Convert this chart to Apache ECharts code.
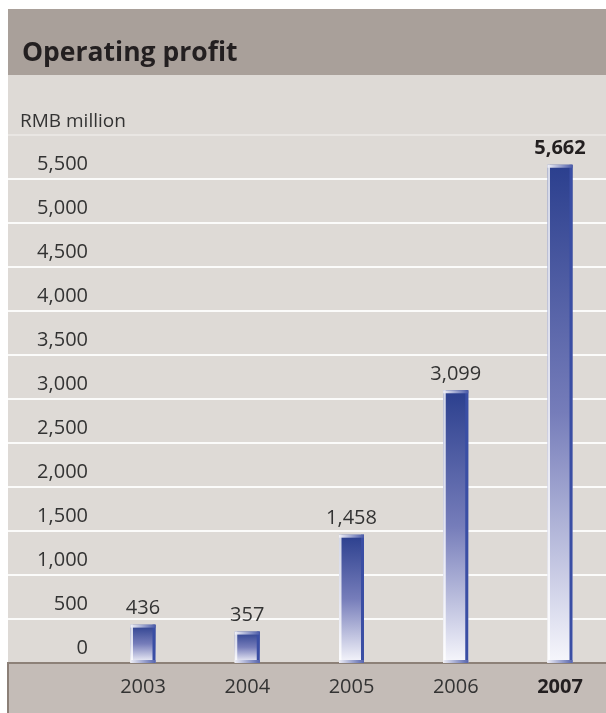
<!DOCTYPE html>
<html>
<head>
<meta charset="utf-8">
<script src="https://cdn.jsdelivr.net/npm/echarts@6/dist/echarts.min.js"></script>
<style>
  html, body { margin: 0; padding: 0; background: #ffffff; }
  #chart { width: 606px; height: 713px; }
</style>
</head>
<body>
<div id="chart"></div>
<script>
// Operating profit, RMB million
const years = ['2003', '2004', '2005', '2006', '2007'];
const profit = [436, 357, 1458, 3099, 5662];
const axisMax = 6000;
const axisStep = 500;

const FONT = '"Open Sans", "Noto Sans", sans-serif';
const TEXT = '#333333';

const chart = echarts.init(document.getElementById('chart'), null, { renderer: 'canvas' });

const fmt = v => v.toLocaleString('en-US');

// rule colours: white rules, the topmost one (at axisMax) only faintly lighter than the panel
const ruleCount = axisMax / axisStep + 1;
const ruleColors = Array.from({ length: ruleCount }, (_, k) => k === ruleCount - 1 ? '#e9e6e3' : '#fbfbfa');

// 3D-look column: gradient body, light left edge, dark right edge, bevelled caps, value label on top
function renderColumn(params, api) {
  const i = api.value(0);
  const v = api.value(1);
  const top = api.coord([i, v]);
  const base = api.coord([i, 0]);
  const w = 25;
  const x = top[0] - w / 2;
  const y = top[1];
  const h = base[1] - top[1];
  const last = params.dataIndex === years.length - 1;
  return {
    type: 'group',
    children: [
      {
        type: 'rect',
        shape: { x: x, y: y, width: w, height: h },
        style: {
          fill: new echarts.graphic.LinearGradient(0, 0, 0, 1, [
            { offset: 0, color: '#2b3f8e' },
            { offset: 0.5, color: '#767dba' },
            { offset: 1, color: '#f7f7fc' }
          ])
        }
      },
      {
        type: 'rect',
        shape: { x: x, y: y, width: 2.5, height: h },
        style: { fill: 'rgba(255,255,255,0.8)' }
      },
      {
        type: 'rect',
        shape: { x: x + w - 3, y: y, width: 3, height: h },
        style: { fill: '#3a4ea4' }
      },
      {
        type: 'rect',
        shape: { x: x, y: y, width: w, height: Math.min(3, h) },
        style: {
          fill: new echarts.graphic.LinearGradient(0, 0, 1, 0, [
            { offset: 0, color: '#f2f2f8' },
            { offset: 1, color: '#4a5aa8' }
          ])
        }
      },
      {
        type: 'rect',
        shape: { x: x, y: base[1] - 3, width: w, height: Math.min(3, h) },
        style: {
          fill: new echarts.graphic.LinearGradient(0, 0, 1, 0, [
            { offset: 0, color: '#eeeef6' },
            { offset: 1, color: '#5563ad' }
          ])
        }
      },
      {
        type: 'text',
        style: {
          x: top[0],
          y: y - 6,
          text: fmt(v),
          fill: last ? '#231f20' : TEXT,
          font: (last ? 'bold ' : '') + '20px ' + FONT,
          align: 'center',
          verticalAlign: 'bottom'
        }
      }
    ]
  };
}

const option = {
  animation: false,
  backgroundColor: '#ffffff',
  graphic: [
    // header band
    { type: 'rect', z: -10, shape: { x: 8, y: 9, width: 598, height: 66 }, style: { fill: '#a9a09a' } },
    // plot background
    { type: 'rect', z: -10, shape: { x: 8, y: 75, width: 598, height: 588 }, style: { fill: '#dedad6' } },
    // category band
    { type: 'rect', z: -10, shape: { x: 8, y: 663, width: 598, height: 50 }, style: { fill: '#c4bcb7' } },
    { type: 'rect', z: -9, shape: { x: 7, y: 662, width: 2, height: 51 }, style: { fill: '#8b7f77' } }
  ],
  title: [
    {
      text: 'Operating profit',
      left: 22, top: 40, padding: 0,
      textStyle: { fontFamily: FONT, fontSize: 26.5, fontWeight: 'bold', color: '#231f20' }
    },
    {
      text: 'RMB million',
      left: 20, top: 112, padding: 0,
      textStyle: { fontFamily: FONT, fontSize: 19, fontWeight: 'normal', color: TEXT }
    }
  ],
  grid: [
    // full-width grid carrying the horizontal rules
    { left: 8, right: 0, top: 135, bottom: 50 },
    // column grid: first and last year sit on the grid edges
    { left: 143, right: 46, top: 135, bottom: 50 }
  ],
  xAxis: [
    {
      gridIndex: 0, type: 'value', min: 0, max: 1,
      axisLine: { show: true, onZero: false, lineStyle: { color: '#8d8178', width: 2 } },
      axisTick: { show: false }, axisLabel: { show: false }, splitLine: { show: false }
    },
    {
      gridIndex: 1, type: 'category', data: years, boundaryGap: false,
      axisLine: { show: false }, axisTick: { show: false }, splitLine: { show: false },
      axisLabel: {
        interval: 0,
        margin: 14,
        fontFamily: FONT, fontSize: 20, color: TEXT,
        formatter: (v, i) => i === years.length - 1 ? '{b|' + v + '}' : v,
        rich: { b: { fontFamily: FONT, fontSize: 20, fontWeight: 'bold', color: '#231f20' } }
      }
    }
  ],
  yAxis: [
    {
      gridIndex: 0, type: 'value', min: 0, max: axisMax, interval: axisStep,
      axisLine: { show: false }, axisTick: { show: false }, axisLabel: { show: false },
      splitLine: { show: true, lineStyle: { color: ruleColors, width: 2 } }
    },
    {
      gridIndex: 1, type: 'value', min: 0, max: axisMax, interval: axisStep,
      axisLine: { show: false }, axisTick: { show: false }, splitLine: { show: false },
      axisLabel: {
        margin: 55,
        fontFamily: FONT, fontSize: 20, color: TEXT,
        verticalAlign: 'bottom', lineHeight: 20, padding: [0, 0, 5, 0],
        formatter: v => v === axisMax ? '' : fmt(v)
      }
    }
  ],
  series: [
    {
      type: 'custom',
      xAxisIndex: 1, yAxisIndex: 1,
      renderItem: renderColumn,
      encode: { x: 0, y: 1 },
      data: years.map((y, i) => [i, profit[i]])
    }
  ]
};

chart.setOption(option);
</script>
</body>
</html>
